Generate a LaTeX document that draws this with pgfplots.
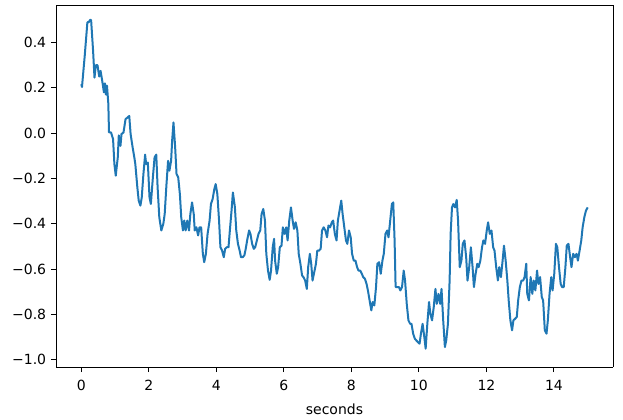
\documentclass[border=0pt]{standalone}
\usepackage{fontspec}
\setmainfont{DejaVu Sans}
\usepackage{pgfplots}
\pgfplotsset{compat=1.18}
\definecolor{mplblue}{HTML}{1F77B4}

\begin{document}
\fontsize{14}{16}\selectfont
\begin{tikzpicture}
\begin{axis}[
    scale only axis,
    width=557pt,
    height=362pt,
    xmin=-0.75, xmax=15.75,
    ymin=-1.033, ymax=0.566,
    axis x line*=bottom, axis y line*=left,
    tick align=outside,
    major tick length=5pt,
    tick style={black, line width=0.9pt},
    axis line style={line width=0.9pt},
    xtick={0,2,4,6,8,10,12,14},
    xticklabels={0,2,4,6,8,10,12,14},
    xticklabel style={yshift=-3pt},
    ytick={-1.0,-0.8,-0.6,-0.4,-0.2,0.0,0.2,0.4},
    yticklabels={−1.0,−0.8,−0.6,−0.4,−0.2,0.0,0.2,0.4},
    xlabel={seconds},
    xlabel style={yshift=-4pt},
    clip=false,
]
% top and right spines
\draw[line width=0.9pt] (rel axis cs:0,1) -- (rel axis cs:1,1) -- (rel axis cs:1,0);
\addplot[color=mplblue, line width=2pt, line join=round] coordinates {
(0.00,0.216)(0.02,0.204)(0.10,0.34)(0.18,0.49)(0.22,0.49)(0.26,0.50)(0.29,0.50)(0.35,0.36)(0.39,0.245)(0.43,0.30)(0.48,0.30)(0.53,0.25)(0.57,0.275)(0.62,0.23)(0.67,0.18)(0.70,0.22)(0.73,0.17)(0.76,0.21)(0.80,0.13)(0.82,0.003)(0.88,0.003)(0.94,-0.026)(0.98,-0.137)(1.02,-0.188)(1.08,-0.107)(1.11,-0.01)(1.16,-0.056)(1.19,-0.004)(1.25,0.003)(1.31,0.062)(1.37,0.069)(1.42,0.076)(1.46,-0.004)(1.52,-0.063)(1.57,-0.107)(1.60,-0.137)(1.66,-0.24)(1.70,-0.298)(1.75,-0.32)(1.79,-0.284)(1.84,-0.18)(1.89,-0.095)(1.92,-0.137)(1.97,-0.13)(2.02,-0.284)(2.06,-0.313)(2.12,-0.195)(2.17,-0.107)(2.22,-0.095)(2.26,-0.24)(2.31,-0.372)(2.37,-0.43)(2.43,-0.40)(2.47,-0.357)(2.52,-0.232)(2.57,-0.122)(2.61,-0.166)(2.66,-0.122)(2.69,-0.034)(2.73,0.047)(2.78,-0.063)(2.82,-0.18)(2.87,-0.195)(2.92,-0.27)(2.96,-0.372)(3.01,-0.43)(3.05,-0.386)(3.09,-0.43)(3.14,-0.386)(3.19,-0.43)(3.23,-0.357)(3.28,-0.306)(3.33,-0.357)(3.36,-0.43)(3.41,-0.416)(3.46,-0.452)(3.50,-0.416)(3.55,-0.416)(3.60,-0.533)(3.64,-0.57)(3.69,-0.533)(3.74,-0.445)(3.80,-0.386)(3.84,-0.313)(3.89,-0.291)(3.94,-0.247)(3.98,-0.225)(4.03,-0.27)(4.08,-0.386)(4.12,-0.504)(4.17,-0.519)(4.22,-0.548)(4.26,-0.511)(4.31,-0.504)(4.36,-0.504)(4.40,-0.43)(4.45,-0.342)(4.49,-0.262)(4.55,-0.328)(4.59,-0.43)(4.64,-0.489)(4.69,-0.519)(4.73,-0.548)(4.78,-0.548)(4.83,-0.54)(4.87,-0.511)(4.92,-0.467)(4.97,-0.43)(5.01,-0.445)(5.06,-0.489)(5.11,-0.511)(5.15,-0.504)(5.20,-0.474)(5.25,-0.445)(5.30,-0.43)(5.34,-0.357)(5.39,-0.335)(5.44,-0.386)(5.48,-0.533)(5.53,-0.607)(5.58,-0.648)(5.62,-0.607)(5.67,-0.504)(5.71,-0.467)(5.74,-0.563)(5.79,-0.621)(5.83,-0.592)(5.88,-0.504)(5.93,-0.497)(5.97,-0.416)(6.02,-0.445)(6.07,-0.416)(6.11,-0.474)(6.16,-0.386)(6.21,-0.328)(6.26,-0.386)(6.30,-0.423)(6.35,-0.394)(6.40,-0.43)(6.44,-0.533)(6.49,-0.577)(6.54,-0.629)(6.58,-0.636)(6.63,-0.651)(6.68,-0.688)(6.72,-0.592)(6.77,-0.533)(6.81,-0.577)(6.85,-0.651)(6.90,-0.614)(6.95,-0.577)(6.99,-0.519)(7.04,-0.519)(7.09,-0.511)(7.13,-0.43)(7.18,-0.416)(7.23,-0.43)(7.28,-0.46)(7.32,-0.408)(7.37,-0.416)(7.42,-0.394)(7.46,-0.386)(7.51,-0.445)(7.56,-0.474)(7.60,-0.386)(7.65,-0.342)(7.70,-0.298)(7.74,-0.357)(7.79,-0.416)(7.84,-0.474)(7.88,-0.489)(7.93,-0.43)(7.98,-0.46)(8.02,-0.533)(8.07,-0.563)(8.12,-0.563)(8.17,-0.592)(8.21,-0.607)(8.26,-0.607)(8.31,-0.621)(8.35,-0.636)(8.40,-0.643)(8.45,-0.666)(8.49,-0.695)(8.54,-0.739)(8.59,-0.783)(8.63,-0.746)(8.68,-0.761)(8.73,-0.68)(8.77,-0.577)(8.82,-0.57)(8.87,-0.621)(8.92,-0.563)(8.96,-0.533)(9.01,-0.445)(9.06,-0.43)(9.10,-0.46)(9.15,-0.386)(9.20,-0.313)(9.24,-0.306)(9.28,-0.474)(9.31,-0.68)(9.36,-0.68)(9.41,-0.68)(9.45,-0.695)(9.50,-0.68)(9.55,-0.607)(9.59,-0.651)(9.64,-0.754)(9.69,-0.827)(9.74,-0.842)(9.78,-0.842)(9.83,-0.886)(9.88,-0.908)(9.92,-0.915)(9.97,-0.923)(10.02,-0.93)(10.06,-0.886)(10.11,-0.842)(10.16,-0.90)(10.20,-0.952)(10.25,-0.842)(10.30,-0.746)(10.34,-0.798)(10.39,-0.827)(10.44,-0.768)(10.49,-0.688)(10.53,-0.754)(10.58,-0.71)(10.63,-0.754)(10.67,-0.688)(10.72,-0.827)(10.77,-0.945)(10.81,-0.915)(10.86,-0.842)(10.91,-0.651)(10.94,-0.445)(10.98,-0.328)(11.02,-0.313)(11.07,-0.328)(11.12,-0.295)(11.16,-0.386)(11.21,-0.592)(11.26,-0.563)(11.30,-0.489)(11.35,-0.474)(11.40,-0.548)(11.44,-0.651)(11.49,-0.592)(11.54,-0.504)(11.59,-0.592)(11.63,-0.68)(11.68,-0.621)(11.73,-0.577)(11.77,-0.592)(11.82,-0.563)(11.87,-0.504)(11.91,-0.474)(11.96,-0.489)(12.01,-0.43)(12.05,-0.394)(12.10,-0.445)(12.15,-0.43)(12.20,-0.504)(12.24,-0.519)(12.29,-0.592)(12.34,-0.651)(12.38,-0.592)(12.43,-0.636)(12.48,-0.563)(12.52,-0.497)(12.57,-0.563)(12.62,-0.651)(12.66,-0.739)(12.71,-0.827)(12.76,-0.871)(12.80,-0.827)(12.85,-0.82)(12.90,-0.812)(12.94,-0.739)(12.99,-0.68)(13.04,-0.651)(13.09,-0.651)(13.13,-0.636)(13.18,-0.577)(13.21,-0.71)(13.26,-0.739)(13.31,-0.636)(13.36,-0.71)(13.40,-0.651)(13.45,-0.695)(13.50,-0.607)(13.54,-0.666)(13.59,-0.636)(13.64,-0.724)(13.68,-0.739)(13.73,-0.871)(13.78,-0.886)(13.82,-0.827)(13.87,-0.71)(13.92,-0.636)(13.96,-0.695)(14.01,-0.621)(14.06,-0.489)(14.10,-0.504)(14.15,-0.592)(14.20,-0.666)(14.24,-0.68)(14.29,-0.68)(14.34,-0.592)(14.38,-0.497)(14.43,-0.489)(14.48,-0.548)(14.52,-0.592)(14.57,-0.533)(14.62,-0.548)(14.67,-0.533)(14.71,-0.563)(14.76,-0.519)(14.81,-0.474)(14.85,-0.416)(14.90,-0.372)(14.95,-0.342)(15.00,-0.328)
};
\end{axis}
% fix the overall proportions to those of the reference
\useasboundingbox (current axis.south west) ++(-56pt,-51pt) rectangle ([xshift=10pt,yshift=5pt]current axis.north east);
\end{tikzpicture}
\end{document}
